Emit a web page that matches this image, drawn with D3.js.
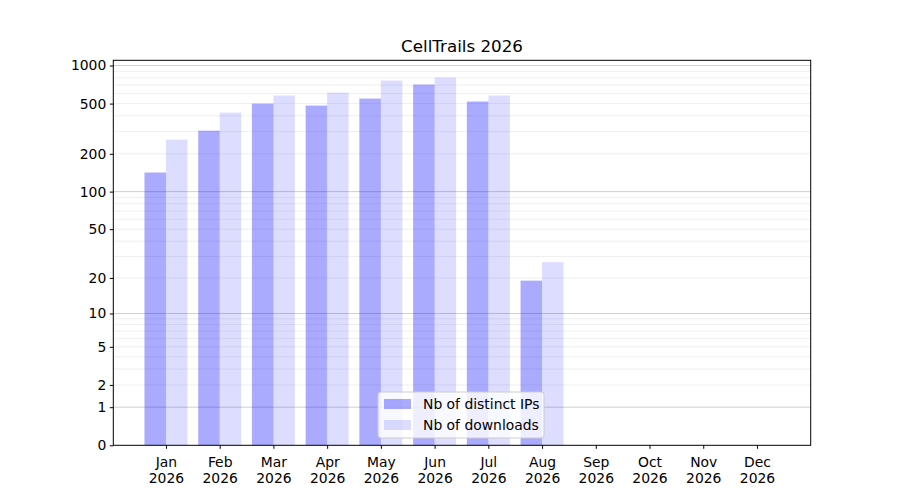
<!DOCTYPE html>
<html>
<head>
<meta charset="utf-8">
<script src="https://cdn.jsdelivr.net/npm/d3@7"></script>
<style>
  body { margin: 0; background: #fff; }
  text { font-family: "DejaVu Sans", sans-serif; fill: #000; }
</style>
</head>
<body>
<div id="chart"></div>
<script>
/* CellTrails monthly stats, symlog bar chart */

const months = ["Jan", "Feb", "Mar", "Apr", "May", "Jun", "Jul", "Aug", "Sep", "Oct", "Nov", "Dec"];
const year = "2026";
const distinctIPs = [142, 305, 500, 482, 548, 708, 519, 19];
const downloads = [259, 424, 579, 611, 761, 804, 579, 27];
const yTicks = [0, 1, 2, 5, 10, 20, 50, 100, 200, 500, 1000];
const majorGrid = [1, 10, 100, 1000];
const minorGrid = [2, 3, 4, 5, 6, 7, 8, 9,
  20, 30, 40, 50, 60, 70, 80, 90,
  200, 300, 400, 500, 600, 700, 800, 900];
const seriesNames = ["Nb of distinct IPs", "Nb of downloads"];

const width = 900,
    height = 500,
    margin = ({top: 60.3, right: 90, bottom: 55, left: 113.3});

const svg = d3.select("#chart")
    .append("svg")
    .attr("width", width)
    .attr("height", height);

let x = d3.scaleLinear()
    .domain([-0.98, 12])
    .range([margin.left, width - margin.right + 0.7]);

let y = d3.scaleSymlog()
    .constant(1)
    .domain([0, 1100])
    .range([height - margin.bottom + 0.3, margin.top]);

const barW = x(0.4) - x(0);

// grid
svg.append("g")
  .selectAll("line")
  .data(minorGrid)
  .join("line")
    .attr("x1", margin.left).attr("x2", x.range()[1])
    .attr("y1", d => y(d)).attr("y2", d => y(d))
    .attr("stroke", "#ebebeb")
    .attr("stroke-width", 0.8);

svg.append("g")
  .selectAll("line")
  .data(majorGrid)
  .join("line")
    .attr("x1", margin.left).attr("x2", x.range()[1])
    .attr("y1", d => y(d)).attr("y2", d => y(d))
    .attr("stroke", "#c4c4c4")
    .attr("stroke-width", 0.8);

// bars
svg.append("g")
  .selectAll("rect")
  .data(distinctIPs)
  .join("rect")
    .attr("x", (d, i) => x(i - 0.4))
    .attr("y", d => y(d))
    .attr("width", barW)
    .attr("height", d => y(0) - y(d))
    .attr("fill", "blue")
    .attr("fill-opacity", 1/3);

svg.append("g")
  .selectAll("rect")
  .data(downloads)
  .join("rect")
    .attr("x", (d, i) => x(i))
    .attr("y", d => y(d))
    .attr("width", barW)
    .attr("height", d => y(0) - y(d))
    .attr("fill", "blue")
    .attr("fill-opacity", 0.135);

// y axis
svg.append("g")
  .attr("transform", `translate(${margin.left},0)`)
  .call(d3.axisLeft(y).tickValues(yTicks).tickFormat(d3.format("d")).tickSize(3.5).tickPadding(3.5))
  .call(g => g.selectAll("text").attr("font-size", 13.9).attr("font-family", "DejaVu Sans"))
  .call(g => g.select(".domain").remove());

// x axis
const xAxis = svg.append("g")
  .attr("transform", `translate(0,${y(0)})`)
  .call(d3.axisBottom(x).tickValues(d3.range(12)).tickFormat("").tickSize(3.5))
  .call(g => g.select(".domain").remove());

xAxis.selectAll(".tick")
  .append("text")
    .attr("font-size", 13.9)
    .attr("text-anchor", "middle")
    .selectAll("tspan")
    .data(d => [months[d], year])
    .join("tspan")
      .attr("x", 0)
      .attr("y", (d, i) => i === 0 ? 22 : 37.5)
      .text(d => d);

// frame
svg.append("rect")
  .attr("x", margin.left)
  .attr("y", margin.top)
  .attr("width", x.range()[1] - margin.left)
  .attr("height", y(0) - margin.top)
  .attr("fill", "none")
  .attr("stroke", "#000")
  .attr("stroke-width", 1);

// title
svg.append("text")
  .attr("x", (margin.left + x.range()[1]) / 2)
  .attr("y", 52)
  .attr("text-anchor", "middle")
  .attr("font-size", 16.7)
  .text("CellTrails 2026");

// legend
const legend = svg.append("g").attr("transform", "translate(378,392)");
legend.append("rect")
  .attr("width", 166)
  .attr("height", 46)
  .attr("rx", 3)
  .attr("fill", "#fff")
  .attr("fill-opacity", 0.8)
  .attr("stroke", "#cccccc");

const opac = [1/3, 0.135];
const items = legend.selectAll(".item")
  .data(seriesNames)
  .join("g")
    .attr("transform", (d, i) => `translate(6,${7 + i * 21})`);
items.append("rect")
  .attr("width", 27)
  .attr("height", 10)
  .attr("fill", "blue")
  .attr("fill-opacity", (d, i) => opac[i]);
items.append("text")
  .attr("x", 39)
  .attr("y", 10)
  .attr("font-size", 13.9)
  .text(d => d);
</script>
</body>
</html>
